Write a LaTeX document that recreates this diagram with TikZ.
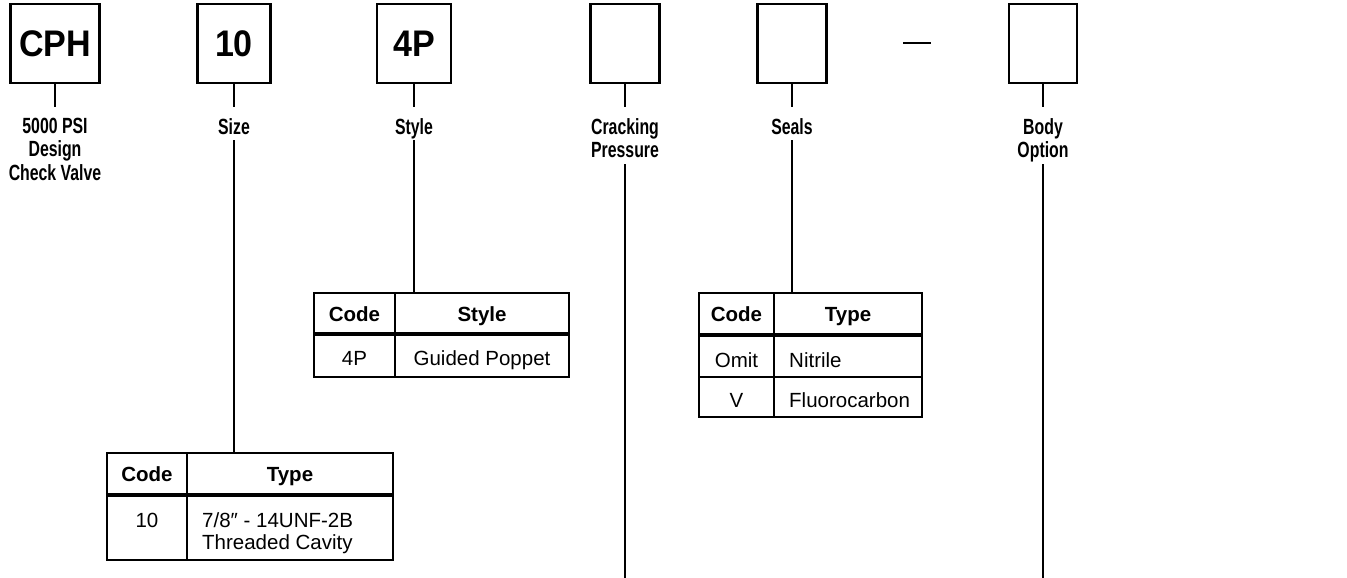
\documentclass[tikz,border=0pt]{standalone}
\usepackage{fontspec}
\setmainfont{Liberation Sans}
\newfontfamily\narrowfont[FakeStretch=0.72]{Liberation Sans}
\newfontfamily\boxfont[FakeStretch=0.92]{Liberation Sans}
\begin{document}
\begin{tikzpicture}[x=1pt,y=-1pt,
  codebox/.style={draw, line width=2.2pt, inner sep=0pt, outer sep=0pt, minimum height=79pt, font=\boxfont\bfseries\fontsize{37}{40}\selectfont},
  lbl/.style={anchor=north, inner sep=0pt, align=center, font=\narrowfont\bfseries\fontsize{22}{23.3}\selectfont},
  stem/.style={line width=2pt},
  cell/.style={draw, line width=2pt, inner sep=0pt, outer sep=0pt, anchor=north west, font=\fontsize{20.5}{24}\selectfont, text height=15pt, text depth=0pt},
  hcell/.style={cell, font=\fontsize{20.5}{24}\selectfont\bfseries},
  rule/.style={line width=3.6pt},
  txt/.style={inner sep=0pt, font=\fontsize{20.5}{24}\selectfont, text height=15pt, text depth=0pt}
]
\useasboundingbox (0,0) rectangle (1347,578);

% code boxes
\node[codebox, minimum width=89pt] (cph) at (55,43.5) {CPH};
\node[codebox, minimum width=73pt] (sz) at (234,43.5) {10};
\node[codebox, minimum width=74pt] (st) at (414,43.5) {4P};
\node[codebox, minimum width=69pt] (cr) at (625,43.5) {};
\node[codebox, minimum width=69pt] (se) at (792,43.5) {};
\node[codebox, minimum width=68pt] (bo) at (1043,43.5) {};
\coordinate (dashL) at (903,43);
\coordinate (dashR) at (931,43);
\draw[line width=2pt] (dashL) -- (dashR);

% labels
\node[lbl] (cphL) at (55,118) {5000 PSI\\Design\\Check Valve};
\node[lbl] (szL) at (234,118) {Size};
\node[lbl] (stL) at (414,118) {Style};
\node[lbl] (crL) at (625,118) {Cracking\\Pressure};
\node[lbl] (seL) at (792,118) {Seals};
\node[lbl] (boL) at (1043,118) {Body\\Option};

% stem coordinates
\coordinate (cphA) at (55,107);
\coordinate (szA) at (234,107);
\coordinate (stA) at (414,107);
\coordinate (crA) at (625,107);
\coordinate (seA) at (792,107);
\coordinate (boA) at (1043,107);
\coordinate (szB) at (234,140);
\coordinate (stB) at (414,140);
\coordinate (seB) at (792,140);
\coordinate (crB) at (625,164);
\coordinate (boB) at (1043,164);
\coordinate (crE) at (625,578);
\coordinate (boE) at (1043,578);

% Style table
\node[hcell, minimum width=81pt, minimum height=41pt] (stH1) at (314,293) {Code};
\node[hcell, minimum width=174pt, minimum height=41pt] (stH2) at (395,293) {Style};
\node[cell, minimum width=81pt, minimum height=43pt] (stR1) at (314,334) {};
\node[cell, minimum width=174pt, minimum height=43pt] (stR2) at (395,334) {};
\node[txt] (stT1) at (354.5,358) {4P};
\node[txt] (stT2) at (482,358) {Guided Poppet};
\draw[rule] (stH1.south west) -- (stH2.south east);

% Size table
\node[hcell, minimum width=80pt, minimum height=42pt] (szH1) at (107,453) {Code};
\node[hcell, minimum width=206pt, minimum height=42pt] (szH2) at (187,453) {Type};
\node[cell, minimum width=80pt, minimum height=65pt] (szR1) at (107,495) {};
\node[cell, minimum width=206pt, minimum height=65pt] (szR2) at (187,495) {};
\node[txt] (szT1) at (147,520) {10};
\node[txt, anchor=west] (szT2) at (202,520) {7/8″ - 14UNF-2B};
\node[txt, anchor=west] (szT3) at (202,542) {Threaded Cavity};
\draw[rule] (szH1.south west) -- (szH2.south east);

% Seals table
\node[hcell, minimum width=75pt, minimum height=42pt] (seH1) at (699,293) {Code};
\node[hcell, minimum width=148pt, minimum height=42pt] (seH2) at (774,293) {Type};
\node[cell, minimum width=75pt, minimum height=42pt] (seR1) at (699,335) {};
\node[cell, minimum width=148pt, minimum height=42pt] (seR2) at (774,335) {};
\node[cell, minimum width=75pt, minimum height=40pt] (seR3) at (699,377) {};
\node[cell, minimum width=148pt, minimum height=40pt] (seR4) at (774,377) {};
\node[txt] (seT1) at (736.5,359.5) {Omit};
\node[txt, anchor=west] (seT2) at (789,359.5) {Nitrile};
\node[txt] (seT3) at (736.5,399.5) {V};
\node[txt, anchor=west] (seT4) at (789,399.5) {Fluorocarbon};
\draw[rule] (seH1.south west) -- (seH2.south east);

% connectors
\draw[stem] (cph.south) -- (cphA);
\draw[stem] (sz.south) -- (szA);
\draw[stem] (st.south) -- (stA);
\draw[stem] (cr.south) -- (crA);
\draw[stem] (se.south) -- (seA);
\draw[stem] (bo.south) -- (boA);
\draw[stem] (szB) -- (szB |- szH2.north);
\draw[stem] (stB) -- (stB |- stH2.north);
\draw[stem] (seB) -- (seB |- seH2.north);
\draw[stem] (crB) -- (crE);
\draw[stem] (boB) -- (boE);
\end{tikzpicture}
\end{document}
